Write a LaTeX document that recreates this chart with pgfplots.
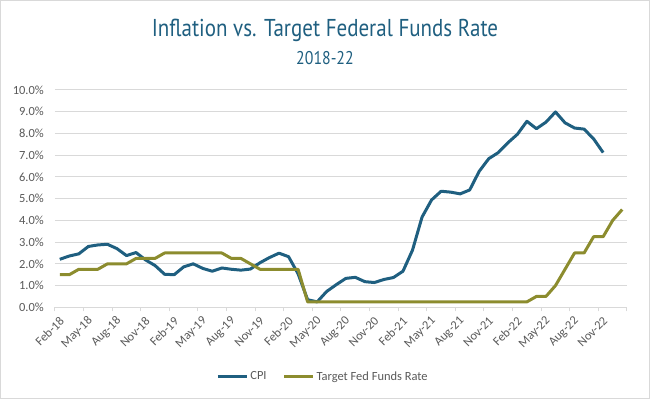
\documentclass[border=0pt]{standalone}
\usepackage{pgfplots}
\pgfplotsset{compat=1.18}
\usepackage{fontspec}
\setmainfont{Carlito}
\newfontfamily\titlefont{PT Sans}[FakeStretch=0.86]
\definecolor{cpiblue}{HTML}{1F5F80}
\definecolor{fedolive}{HTML}{8C8C2E}
\definecolor{gridgray}{HTML}{D9D9D9}
\definecolor{labelgray}{HTML}{595959}
\begin{document}
\begin{tikzpicture}
\useasboundingbox (-55bp,-91.7bp) rectangle (595bp,307.3bp);
\draw[gridgray, line width=1.2bp] (-54.4bp,-91.1bp) rectangle (594.4bp,306.7bp);
\begin{axis}[
  at={(0,0)}, anchor=south west,
  width=572bp, height=217.3bp, scale only axis,
  xmin=-0.5, xmax=59.5, ymin=0, ymax=10,
  axis x line*=bottom, axis y line*=left,
  axis line style={-},
  x axis line style={gridgray, line width=1bp},
  y axis line style={draw=none},
  ytick={0,1,...,10},
  yticklabels={0.0\%,1.0\%,2.0\%,3.0\%,4.0\%,5.0\%,6.0\%,7.0\%,8.0\%,9.0\%,10.0\%},
  ymajorgrids, grid style={gridgray, line width=1bp},
  xtick={0,3,...,57},
  xticklabels={Feb-18,May-18,Aug-18,Nov-18,Feb-19,May-19,Aug-19,Nov-19,Feb-20,May-20,Aug-20,Nov-20,Feb-21,May-21,Aug-21,Nov-21,Feb-22,May-22,Aug-22,Nov-22},
  minor xtick={-0.5,2.5,...,59.5},
  major tick length=0pt, minor tick length=4bp,
  tick align=outside,
  minor tick style={gridgray, line width=1bp},
  xticklabel style={xshift=3bp, yshift=-11bp, rotate=45, anchor=east, text=labelgray, font=\fontsize{12.5}{14}\selectfont, inner sep=1bp},
  yticklabel style={text=labelgray, font=\fontsize{12.5}{14}\selectfont, inner sep=0pt, xshift=-11bp},
  legend style={at={(0.4686,-0.319)}, anchor=center, draw=none, fill=none,
    font=\fontsize{12.5}{14}\selectfont, text=labelgray,
    /tikz/every even column/.append style={column sep=14bp}},
  legend columns=2, legend cell align=left,
  legend image code/.code={\draw[#1, line width=3bp] (0bp,0bp) -- (29bp,0bp);},
  line join=round,
]
\addplot[cpiblue, line width=3bp] coordinates {
(0,2.21) (1,2.36) (2,2.46) (3,2.80) (4,2.87) (5,2.90) (6,2.70) (7,2.38) (8,2.52) (9,2.18)
(10,1.92) (11,1.52) (12,1.50) (13,1.86) (14,2.00) (15,1.79) (16,1.66) (17,1.81) (18,1.75) (19,1.71)
(20,1.76) (21,2.05) (22,2.29) (23,2.49) (24,2.33) (25,1.54) (26,0.35) (27,0.25) (28,0.73) (29,1.04)
(30,1.33) (31,1.38) (32,1.18) (33,1.14) (34,1.28) (35,1.37) (36,1.66) (37,2.63) (38,4.15) (39,4.94)
(40,5.34) (41,5.30) (42,5.22) (43,5.40) (44,6.26) (45,6.84) (46,7.12) (47,7.57) (48,7.96) (49,8.56)
(50,8.22) (51,8.52) (52,8.99) (53,8.49) (54,8.25) (55,8.20) (56,7.75) (57,7.12)
};
\addlegendentry{CPI}
\addplot[fedolive, line width=3bp] coordinates {
(0,1.5) (1,1.5) (2,1.75) (3,1.75) (4,1.75) (5,2.0) (6,2.0) (7,2.0) (8,2.25) (9,2.25)
(10,2.25) (11,2.5) (12,2.5) (13,2.5) (14,2.5) (15,2.5) (16,2.5) (17,2.5) (18,2.25) (19,2.25)
(20,2.0) (21,1.75) (22,1.75) (23,1.75) (24,1.75) (25,1.75) (26,0.25) (27,0.25) (28,0.25) (29,0.25)
(30,0.25) (31,0.25) (32,0.25) (33,0.25) (34,0.25) (35,0.25) (36,0.25) (37,0.25) (38,0.25) (39,0.25)
(40,0.25) (41,0.25) (42,0.25) (43,0.25) (44,0.25) (45,0.25) (46,0.25) (47,0.25) (48,0.25) (49,0.25)
(50,0.5) (51,0.5) (52,1.0) (53,1.75) (54,2.5) (55,2.5) (56,3.25) (57,3.25) (58,4.0) (59,4.5)
};
\addlegendentry{Target Fed Funds Rate}
\end{axis}
\node[anchor=base, text=cpiblue, font=\titlefont\fontsize{24.5}{28}\selectfont, inner sep=0pt] at (270bp,270.6bp) {Inflation vs. Target Federal Funds Rate};
\node[anchor=base, text=cpiblue, font=\titlefont\fontsize{18.5}{21}\selectfont, inner sep=0pt] at (270bp,242.3bp) {2018-22};
\end{tikzpicture}
\end{document}
